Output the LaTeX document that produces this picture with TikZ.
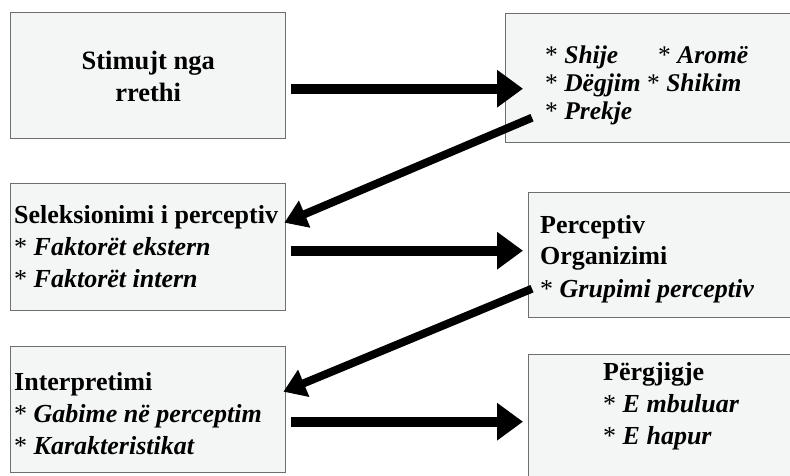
\documentclass[tikz,border=0pt]{standalone}
\usepackage{fontspec}
\setmainfont{Liberation Serif}
\usetikzlibrary{arrows.meta,calc}
\definecolor{boxfill}{HTML}{F4F5F5}
\definecolor{boxline}{HTML}{6E6E6E}
\newcommand\starmark{{\mdseries\upshape *}}
\newcommand\boxlines[2]{\parbox[t]{#1}{\raggedright #2}}
\begin{document}
\begin{tikzpicture}[x=1pt,y=-1pt,
  box/.style={draw=boxline, line width=1.4pt, fill=boxfill, anchor=north west, inner sep=0pt},
  txt/.style={anchor=base west, inner sep=0pt, font=\fontsize{26}{32}\selectfont\bfseries},
  flowarrow/.style={line width=10pt, -{Triangle[length=26pt,width=36pt]}},
  backarrow/.style={line width=8pt, -{Triangle[length=22pt,width=28pt]}}
]
\useasboundingbox (0,0) rectangle (790,476);

% boxes
\node[box, minimum width=275pt, minimum height=126pt] (stim) at (10,12) {};
\node[box, minimum width=295pt, minimum height=129pt] (sense) at (505,13) {};
\node[box, minimum width=275pt, minimum height=127pt] (sel) at (10,183) {};
\node[box, minimum width=272pt, minimum height=125pt] (org) at (528,192) {};
\node[box, minimum width=275pt, minimum height=126pt] (interp) at (10,346) {};
\node[box, minimum width=272pt, minimum height=126pt] (resp) at (528,354) {};

% texts
\node[inner sep=0pt, font=\fontsize{26.5}{32}\selectfont\bfseries, align=center, anchor=center]
  (stimtext) at ($(stim.center)+(0,1)$) {Stimujt nga\\rrethi};
\node[txt, font=\fontsize{25.5}{28}\selectfont\bfseries] (sensetext) at (545,64)
  {\boxlines{245pt}{\makebox[113pt][l]{\starmark\ \textit{Shije}}\starmark\ \textit{Aromë}\\
   \starmark\ \textit{Dëgjim} \starmark\ \textit{Shikim}\\
   \starmark\ \textit{Prekje}}};
\node[txt] (seltext) at (14,223)
  {\boxlines{272pt}{Seleksionimi i perceptiv\\
   \starmark\ \textit{Faktorët ekstern}\\
   \starmark\ \textit{Faktorët intern}}};
\node[txt] (orgtext) at (540,233)
  {\boxlines{250pt}{Perceptiv\\Organizimi\\
   \starmark\ \textit{Grupimi perceptiv}}};
\node[txt] (interptext) at (14,390)
  {\boxlines{272pt}{Interpretimi\\
   \starmark\ \textit{Gabime në perceptim}\\
   \starmark\ \textit{Karakteristikat}}};
\node[txt] (resptext) at (603,380)
  {\boxlines{190pt}{Përgjigje\\
   \starmark\ \textit{E mbuluar}\\
   \starmark\ \textit{E hapur}}};

% connectors
\draw[flowarrow] ($(stim.east)+(5,13)$) -- ($(sense.west |- stim.east)+(18,13)$);
\draw[backarrow] ($(sense.west)+(27,39.5)$) -- ($(sel.east)+(-2,-24.5)$);
\draw[flowarrow] ($(sel.east)+(5,3.5)$) -- ($(org.west |- sel.east)+(-5,3.5)$);
\draw[backarrow] ($(org.west)+(4,33.5)$) -- ($(interp.east)+(-3,-18)$);
\draw[flowarrow] ($(interp.east)+(5,12)$) -- ($(resp.west |- interp.east)+(-5,12)$);
\end{tikzpicture}
\end{document}
